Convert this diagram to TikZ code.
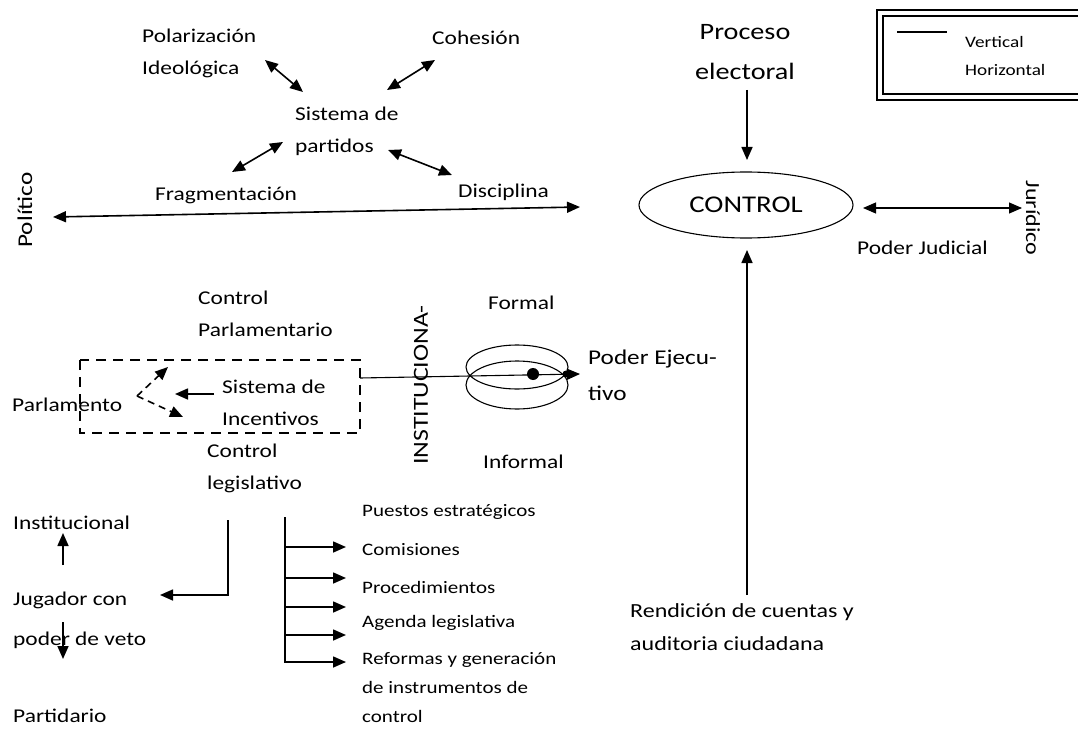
\documentclass[tikz,border=0pt]{standalone}
\usepackage{fontspec}
\setmainfont{Carlito}[FakeStretch=1.2]
\usetikzlibrary{arrows.meta,shapes.geometric}
\begin{document}
\begin{tikzpicture}[x=1pt,y=-1pt,
  txt/.style={inner sep=0pt, anchor=west, align=left, font=\fontsize{19.5}{32}\selectfont},
  ctxt/.style={inner sep=0pt, align=center},
  ln/.style={line width=1.6pt},
  thin/.style={line width=1.1pt},
  tip/.style={-{Triangle[length=13pt,width=11pt]}},
  dtip/.style={{Triangle[length=13pt,width=11pt]}-{Triangle[length=13pt,width=11pt]}},
  dsh/.style={line width=1.8pt, dash pattern=on 10pt off 7pt},
  listtxt/.style={txt, font=\fontsize{17.5}{29}\selectfont}
]
\clip (0,0) rectangle (1078,730);
\fill[white] (0,0) rectangle (1078,730);

% ---------- top left cluster
\node[txt] (pol) at (142,53) {Polarización\\Ideológica};
\node[txt] (coh) at (432,38) {Cohesión};
\node[txt] (sis) at (295,131) {Sistema de\\partidos};
\node[txt] (fra) at (155,195) {Fragmentación};
\node[txt] (dis) at (458,192) {Disciplina};
\node[ctxt, rotate=90, font=\fontsize{21}{24}\selectfont] (polit) at (25,210) {Político};

\coordinate (a1) at (265,60);  \coordinate (b1) at (303,92);
\coordinate (a2) at (435,60);  \coordinate (b2) at (387,90);
\coordinate (a3) at (283,142); \coordinate (b3) at (232,172);
\coordinate (a4) at (388,150); \coordinate (b4) at (452,175);
\draw[ln,dtip] (a1) -- (b1);
\draw[ln,dtip] (a2) -- (b2);
\draw[ln,dtip] (a3) -- (b3);
\draw[ln,dtip] (a4) -- (b4);
\coordinate (hl) at (53,217); \coordinate (hr) at (580,207);
\draw[ln,dtip] (hl) -- (hr);

% ---------- right cluster
\node[ctxt, font=\fontsize{23.5}{40}\selectfont] (pe) at (745,52) {Proceso\\electoral};
\node[ellipse, draw, thin, minimum width=214pt, minimum height=66pt, inner sep=0pt,
      font=\fontsize{24}{28}\selectfont] (ctrl) at (746,205) {CONTROL};
\coordinate (pe1) at (747,90); \coordinate (pe2) at (747,160);
\draw[ln,tip] (pe1) -- (pe2);
\coordinate (j1) at (863,208); \coordinate (j2) at (1022,208);
\draw[thin,dtip] (j1) -- (j2);
\node[ctxt, rotate=-90, font=\fontsize{20}{24}\selectfont] (jur) at (1033,218) {Jurídico};
\node[txt] (pj) at (857,248) {Poder Judicial};
\node[txt, font=\fontsize{20}{33}\selectfont] (ren) at (630,627) {Rendición de cuentas y\\auditoria ciudadana};
\coordinate (r1) at (747,595); \coordinate (r2) at (747,250);
\draw[ln,tip] (r1) -- (r2);

% ---------- legend
\draw[line width=1.8pt] (877,10) rectangle (1095,100);
\draw[line width=1.3pt] (883,16) rectangle (1095,94);
\coordinate (lg1) at (897,32); \coordinate (lg2) at (947,32);
\draw[ln] (lg1) -- (lg2);
\node[txt, font=\fontsize{16}{28}\selectfont] (leg) at (965,56) {Vertical\\Horizontal};

% ---------- middle
\node[txt] (cp) at (198,314) {Control\\Parlamentario};
\draw[dsh] (80,360) rectangle (360,433);
\node[txt] (parl) at (12,405) {Parlamento};
\node[txt] (sdi) at (222,403) {Sistema de\\Incentivos};
\node[txt] (cl) at (207,468) {Control\\legislativo};
\coordinate (ap) at (137,396);
\coordinate (du) at (168,367);
\coordinate (dd) at (183,417);
\draw[ln, dash pattern=on 7pt off 5pt, tip] (ap) -- (du);
\draw[ln, dash pattern=on 7pt off 5pt, tip] (ap) -- (dd);
\coordinate (si1) at (214,394); \coordinate (si2) at (175,394);
\draw[ln,tip] (si1) -- (si2);

\node[ctxt, rotate=90, font=\fontsize{21.5}{24}\selectfont] (inst) at (421,385) {INSTITUCIONA-};
\node[txt] (form) at (488,303) {Formal};
\node[txt] (inf) at (483,462) {Informal};
\node[ellipse, draw, thin, minimum width=102pt, minimum height=44pt] (eu) at (517,367) {};
\node[ellipse, draw, thin, minimum width=102pt, minimum height=48pt] (el) at (517,385) {};
\coordinate (bx) at (360,378); \coordinate (pex) at (580,374);
\draw[thin,tip] (bx) -- (pex);
\fill (533,374) circle (6pt);
\fill (566,374) circle (3.5pt);
\node[txt, font=\fontsize{21}{36}\selectfont] (pej) at (588,375) {Poder Ejecu-\\tivo};

% ---------- bottom left
\node[txt] (inst2) at (13,523) {Institucional};
\node[txt] (jug1) at (13,600) {Jugador con};
\node[txt] (jug2) at (13,640) {poder de veto};
\node[txt] (part) at (13,716) {Partidario};
\coordinate (u1) at (63,565); \coordinate (u2) at (63,533);
\draw[ln,tip] (u1) -- (u2);
\coordinate (d1) at (63,622); \coordinate (d2) at (63,659);
\draw[ln,tip] (d1) -- (d2);
\coordinate (L1) at (228,520); \coordinate (L2) at (228,595); \coordinate (L3) at (160,595);
\draw[ln,tip] (L1) -- (L2) -- (L3);

% ---------- list
\coordinate (v1) at (285,517); \coordinate (v2) at (285,663);
\draw[ln] (v1) -- (v2);
\foreach \yy [count=\i] in {547,578,607,635,662}{
  \coordinate (bs\i) at (285,\yy);
  \coordinate (be\i) at (346,\yy);
  \draw[ln,tip] (bs\i) -- (be\i);
}
\node[listtxt] (l1) at (362,512) {Puestos estratégicos};
\node[listtxt] (l2) at (362,550) {Comisiones};
\node[listtxt] (l3) at (362,587) {Procedimientos};
\node[listtxt] (l4) at (362,623) {Agenda legislativa};
\node[listtxt] (l5) at (362,688) {Reformas y generación\\de instrumentos de\\control};
\end{tikzpicture}
\end{document}
